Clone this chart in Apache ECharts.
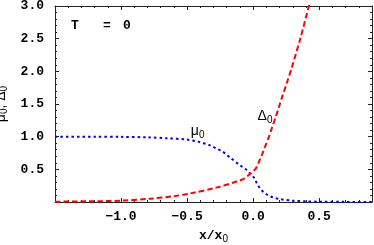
<!DOCTYPE html>
<html><head><meta charset="utf-8">
<script src="https://cdn.jsdelivr.net/npm/echarts@6/dist/echarts.min.js"></script>
<style>html,body{margin:0;padding:0;background:#fff}#c{width:374px;height:245px}</style>
</head><body><div id="c"></div>
<script>
// mu_0 (blue dotted)
const muX = [-1.5, -1.2, -1.0, -0.8, -0.65, -0.5, -0.41, -0.33, -0.28, -0.23, -0.18, -0.105, -0.055, -0.03, 0.008, 0.03, 0.06, 0.1, 0.15, 0.2, 0.3, 0.4, 0.5, 0.7, 0.9];
const muY = [1.0, 1.0, 0.997, 0.99, 0.975, 0.955, 0.92, 0.87, 0.82, 0.77, 0.69, 0.57, 0.50, 0.45, 0.37, 0.28, 0.19, 0.12, 0.07, 0.045, 0.02, 0.01, 0.005, 0.002, 0.001];
// Delta_0 (red dashed)
const deltaX = [-1.5, -1.25, -1.0, -0.78, -0.6, -0.48, -0.28, -0.1, -0.068, -0.017, 0.02, 0.045, 0.07, 0.095, 0.12, 0.145, 0.171, 0.195, 0.22, 0.26, 0.293, 0.36, 0.42, 0.44];
const deltaY = [0.005, 0.01, 0.02, 0.05, 0.09, 0.13, 0.22, 0.33, 0.36, 0.44, 0.51, 0.62, 0.74, 0.87, 1.0, 1.15, 1.30, 1.45, 1.61, 1.85, 2.06, 2.52, 2.98, 3.12];
const xTickLabels = ['−1.0', '−0.5', '0.0', '0.5'];
const yTickLabels = ['0.5', '1.0', '1.5', '2.0', '2.5', '3.0'];

const mono = "'Liberation Mono','Courier New',monospace";
const sans = "'Liberation Sans','DejaVu Sans',sans-serif";
const frame = '#222';

function xLabel(v) {
  const s = (v < 0 ? '−' : '') + Math.abs(v).toFixed(1);
  return xTickLabels.indexOf(s) >= 0 ? s : '';
}
function yLabel(v) {
  const s = v.toFixed(1);
  return yTickLabels.indexOf(s) >= 0 ? s : '';
}

const subRich = {
  m: {fontFamily: sans, fontSize: 14, color: '#000', lineHeight: 18},
  s: {fontFamily: sans, fontSize: 10, color: '#000', verticalAlign: 'bottom', lineHeight: 10}
};

function xAxisDef(pos, major) {
  return {
    type: 'value', position: pos, min: -1.5, max: 0.9, interval: major ? 0.5 : 0.1,
    axisLine: {show: major, onZero: false, lineStyle: {color: frame, width: 1}},
    axisTick: {show: true, inside: true, length: major ? 4 : 2, lineStyle: {color: frame}},
    axisLabel: {show: major && pos === 'bottom', formatter: xLabel, fontFamily: mono, fontWeight: 'bold', fontSize: 13, color: '#000', margin: 8},
    splitLine: {show: false}
  };
}
function yAxisDef(pos) {
  return {
    type: 'value', position: pos, min: 0, max: 3, interval: 0.5,
    axisLine: {show: true, onZero: false, lineStyle: {color: frame, width: 1}},
    axisTick: {show: true, inside: true, length: 4, lineStyle: {color: frame}},
    minorTick: {show: true, splitNumber: 5, length: 2, lineStyle: {color: frame}},
    axisLabel: {show: pos === 'left', formatter: yLabel, fontFamily: mono, fontWeight: 'bold', fontSize: 13, color: '#000', margin: 11},
    splitLine: {show: false}, minorSplitLine: {show: false}
  };
}

const xs = [xAxisDef('bottom', true), xAxisDef('bottom', false), xAxisDef('top', true), xAxisDef('top', false)];
xs[0].name = '{b|x/x}{s|0}';
xs[0].nameLocation = 'middle';
xs[0].nameGap = 25;
xs[0].nameTextStyle = {rich: {
  b: {fontFamily: mono, fontWeight: 'bold', fontSize: 13, color: '#000', lineHeight: 17},
  s: {fontFamily: sans, fontSize: 10, color: '#000', verticalAlign: 'bottom', lineHeight: 10}
}};
const ys = [yAxisDef('left'), yAxisDef('right')];
ys[0].name = '{m|μ}{s|0}{m|, Δ}{s|0}';
ys[0].nameLocation = 'middle';
ys[0].nameGap = 36;
ys[0].nameTextStyle = {rich: subRich};

const chart = echarts.init(document.getElementById('c'), null, {renderer: 'canvas'});
chart.setOption({
  animation: false,
  backgroundColor: '#fff',
  grid: {left: 55, right: 2, top: 6, bottom: 43, containLabel: false, outerBoundsMode: 'none'},
  xAxis: xs,
  yAxis: ys,
  graphic: [{
    type: 'text', x: 71, y: 19,
    style: {
      text: '{t|T}{e|=}{z|0}',
      rich: {
        t: {fontFamily: mono, fontWeight: 'bold', fontSize: 13, color: '#000', width: 32},
        e: {fontFamily: mono, fontWeight: 'bold', fontSize: 13, color: '#000', width: 20},
        z: {fontFamily: mono, fontWeight: 'bold', fontSize: 13, color: '#000'}
      }
    }
  }],
  series: [
    {
      type: 'line', xAxisIndex: 0, yAxisIndex: 0, showSymbol: false, smooth: 0.3, clip: true,
      data: muX.map((x, i) => [x, muY[i]]),
      lineStyle: {color: '#0000ff', width: 2, type: [2.5, 3]},
      markPoint: {
        symbol: 'circle', symbolSize: 0, silent: true,
        label: {show: true, position: 'inside', formatter: '{m|μ}{s|0}', rich: subRich},
        data: [{coord: [-0.42, 1.09]}]
      }
    },
    {
      type: 'line', xAxisIndex: 0, yAxisIndex: 0, showSymbol: false, smooth: 0.3, clip: true,
      data: deltaX.map((x, i) => [x, deltaY[i]]),
      lineStyle: {color: '#ff0000', width: 2, type: [5.5, 3]},
      markPoint: {
        symbol: 'circle', symbolSize: 0, silent: true,
        label: {show: true, position: 'inside', formatter: '{m|Δ}{s|0}', rich: subRich},
        data: [{coord: [0.09, 1.32]}]
      }
    }
  ]
});
</script>
</body></html>
